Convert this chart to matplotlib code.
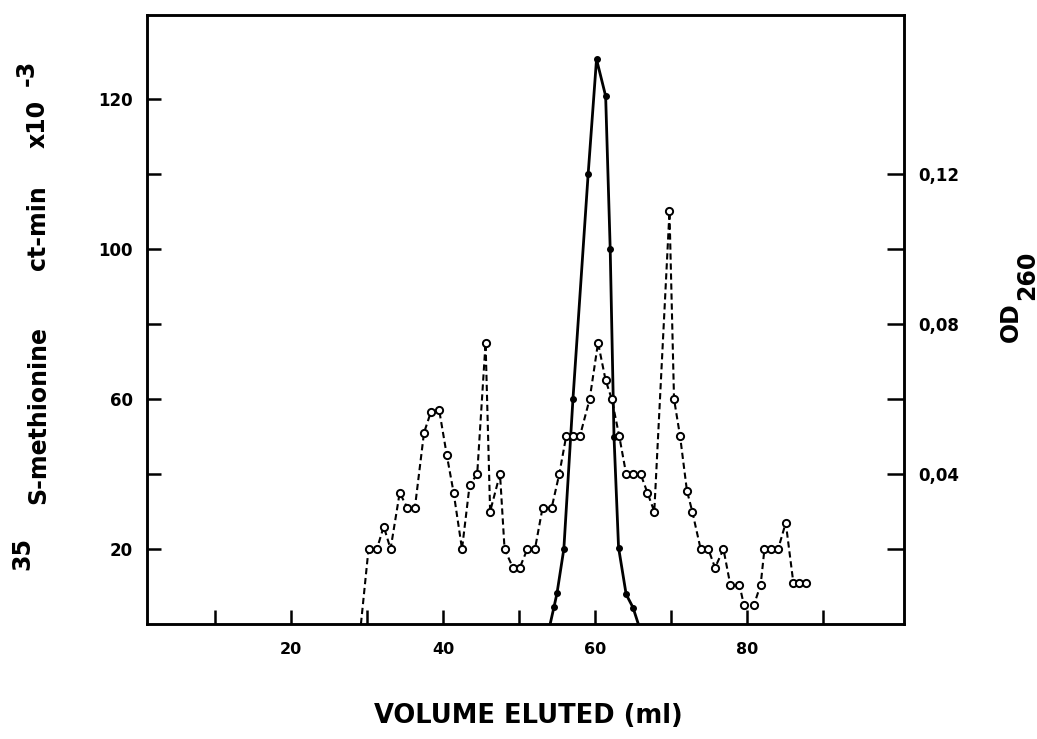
import matplotlib
matplotlib.use("Agg")
import matplotlib.pyplot as plt

plt.rcParams['font.family'] = ['DejaVu Sans']
plt.rcParams['font.weight'] = 'bold'

# Open circles, dashed line (OD 260, right axis)
od_ml = [29.2, 30.2, 31.3, 32.2, 33.1, 34.3, 35.3, 36.3, 37.5, 38.4, 39.5, 40.5, 41.4,
         42.5, 43.5, 44.5, 45.6, 46.2, 47.5, 48.1, 49.2, 50.1, 51.1, 52.1, 53.1, 54.3,
         55.3, 56.2, 57.1, 58.0, 59.3, 60.4, 61.4, 62.2, 63.2, 64.1, 65.0, 66.0, 66.9,
         67.8, 69.8, 70.4, 71.2, 72.1, 72.8, 73.9, 74.9, 75.8, 76.9, 77.8, 79.0, 79.6,
         80.9, 81.8, 82.3, 83.2, 84.1, 85.1, 86.1, 86.9, 87.7]
od_val = [0.0, 0.020, 0.020, 0.026, 0.020, 0.035, 0.031, 0.031, 0.051, 0.0565, 0.057,
          0.045, 0.035, 0.020, 0.037, 0.040, 0.075, 0.030, 0.040, 0.020, 0.015, 0.015,
          0.020, 0.020, 0.031, 0.031, 0.040, 0.050, 0.050, 0.050, 0.060, 0.075, 0.065,
          0.060, 0.050, 0.040, 0.040, 0.040, 0.035, 0.030, 0.110, 0.060, 0.050, 0.0355,
          0.030, 0.020, 0.020, 0.015, 0.020, 0.0105, 0.0105, 0.005, 0.005, 0.0105,
          0.020, 0.020, 0.020, 0.027, 0.011, 0.011, 0.011]

# Filled dots, solid line (35S-methionine, left axis units)
met_ml = [54.1, 54.6, 55.0, 55.9, 57.1, 59.1, 60.2, 61.4, 62.0, 62.5, 63.1, 64.1, 65.0, 65.7]
met_val = [0, 4.5, 8.2, 20, 60, 120, 150.6, 140.8, 100, 50, 20.4, 7.9, 4.4, 0]

left_ticks = [20, 40, 60, 80, 100, 120, 140]
left_labels = ['20', '', '60', '', '100', '', '120']
right_ticks = [0.02, 0.04, 0.06, 0.08, 0.10, 0.12]
right_labels = ['', '0,04', '', '0,08', '', '0,12']
x_ticks = [10, 20, 30, 40, 50, 60, 70, 80, 90]
x_labels = ['', '20', '', '40', '', '60', '', '80', '']

W, H = 1037, 739
fig = plt.figure(figsize=(W / 100, H / 100), dpi=100)
ax = fig.add_axes([147 / W, 1 - 624 / H, (904 - 147) / W, 609 / H])
ax2 = ax.twinx()

ax.set_xlim(1.05, 100.66)
ax.set_ylim(0, 162.4)
ax2.set_ylim(0, 0.1624)

ax.plot(met_ml, met_val, color='black', lw=2.0, marker='o', ms=4,
        markevery=list(range(1, len(met_ml) - 1)), zorder=3)
ax2.plot(od_ml, od_val, color='black', lw=1.5, ls=(0, (3, 1.8)), marker='o', ms=5.2,
         mfc='white', mec='black', mew=1.4, markevery=list(range(1, len(od_ml))),
         zorder=3)

for a in (ax, ax2):
    for s in a.spines.values():
        s.set_linewidth(1.8)

ax.set_xticks(x_ticks)
ax.set_xticklabels(x_labels)
ax.set_yticks(left_ticks)
ax.set_yticklabels(left_labels)
ax2.set_yticks(right_ticks)
ax2.set_yticklabels(right_labels)

ax.tick_params(axis='x', direction='in', length=10, width=1.8, pad=13, labelsize=11.5)
ax.tick_params(axis='y', direction='in', length=10, width=1.8, pad=10, labelsize=12)
ax2.tick_params(axis='y', direction='in', length=12, width=1.8, pad=10, labelsize=12)
for lab in ax.get_xticklabels() + ax.get_yticklabels() + ax2.get_yticklabels():
    lab.set_fontweight('bold')

fig.text(528 / W, 1 - 716 / H, 'VOLUME ELUTED (ml)', ha='center', va='center',
         fontsize=18.5, fontweight='bold')

# Left axis label pieces: 35S-methionine ct-min x10^-3
lab_kw = dict(rotation=90, rotation_mode='anchor', ha='center', va='center',
              fontsize=17, fontweight='bold')
fig.text(22 / W, 1 - 553 / H, '35', **lab_kw)
fig.text(38 / W, 1 - 415 / H, 'S-methionine', **lab_kw)
fig.text(38 / W, 1 - 228 / H, 'ct-min', **lab_kw)
fig.text(38 / W, 1 - 124 / H, 'x10', **lab_kw)
fig.text(27 / W, 1 - 73 / H, '-3', **lab_kw)

# Right axis label: OD 260
fig.text(1011 / W, 1 - 322 / H, 'OD', **lab_kw)
fig.text(1027 / W, 1 - 275 / H, '260', **lab_kw)

fig.savefig('out.png', dpi=100, facecolor='white')
